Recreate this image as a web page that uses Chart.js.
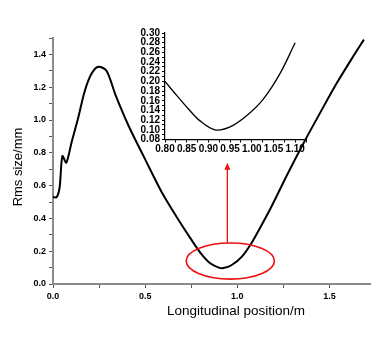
<!DOCTYPE html>
<html>
<head>
<meta charset="utf-8">
<script src="https://cdn.jsdelivr.net/npm/chart.js@4"></script>
<style>
  html, body { margin: 0; padding: 0; background: #ffffff; }
  #wrap { position: relative; width: 382px; height: 343px; }
  #main { position: absolute; left: 0; top: 0; }
  #inset { position: absolute; left: 100px; top: 15px; }
</style>
</head>
<body>
<div id="wrap">
  <canvas id="main" width="382" height="343"></canvas>
  <canvas id="inset" width="220" height="150"></canvas>
</div>
<script>
// ---- Main curve data ----
const mainX = [0, 0.02, 0.036, 0.051, 0.072, 0.10, 0.136, 0.172, 0.208, 0.245, 0.29, 0.34, 0.41, 0.50, 0.59, 0.69, 0.745, 0.80, 0.853, 0.90, 0.925, 0.97, 1.025, 1.08, 1.125, 1.18, 1.27, 1.36, 1.45, 1.54, 1.63, 1.687];
const mainY = [0.53, 0.53, 0.59, 0.78, 0.74, 0.86, 1.01, 1.175, 1.28, 1.325, 1.30, 1.15, 0.965, 0.76, 0.56, 0.375, 0.28, 0.19, 0.126, 0.10, 0.097, 0.116, 0.167, 0.255, 0.345, 0.46, 0.665, 0.86, 1.045, 1.225, 1.39, 1.49];

// ---- Inset curve data ----
const insetX = [0.80, 0.827, 0.854, 0.88, 0.915, 0.95, 0.988, 1.027, 1.065, 1.10];
const insetY = [0.20, 0.171, 0.143, 0.119, 0.100, 0.106, 0.129, 0.164, 0.216, 0.28];

// ---- Tick values ----
const mainXTicks = [0, 0.25, 0.5, 0.75, 1.0, 1.25, 1.5];
const mainXLabels = ['0.0', '', '0.5', '', '1.0', '', '1.5'];
const mainYTicks = [0, 0.1, 0.2, 0.3, 0.4, 0.5, 0.6, 0.7, 0.8, 0.9, 1.0, 1.1, 1.2, 1.3, 1.4, 1.5];
const mainYLabels = ['0.0', '', '0.2', '', '0.4', '', '0.6', '', '0.8', '', '1.0', '', '1.2', '', '1.4', ''];
const insetXTicks = [0.80, 0.825, 0.85, 0.875, 0.90, 0.925, 0.95, 0.975, 1.00, 1.025, 1.05, 1.075, 1.10, 1.125];
const insetXLabels = ['0.80', '', '0.85', '', '0.90', '', '0.95', '', '1.00', '', '1.05', '', '1.10', ''];
const insetYTicks = [0.08, 0.09, 0.10, 0.11, 0.12, 0.13, 0.14, 0.15, 0.16, 0.17, 0.18, 0.19, 0.20, 0.21, 0.22, 0.23, 0.24, 0.25, 0.26, 0.27, 0.28, 0.29, 0.30];
const insetYLabels = ['0.08', '', '0.10', '', '0.12', '', '0.14', '', '0.16', '', '0.18', '', '0.20', '', '0.22', '', '0.24', '', '0.26', '', '0.28', '', '0.30'];

// ---- Axis titles ----
const xTitle = 'Longitudinal position/m';
const yTitle = 'Rms size/mm';

// ---- Annotation (red ellipse + arrow), in data units ----
const ellipseCenter = [0.962, 0.14];
const ellipseRadius = [0.239, 0.11];
const arrowX = 0.946;
const arrowFromY = 0.25;
const arrowToY = 0.74;

const FONT = "'Liberation Sans', Arial, sans-serif";

function fixedTicks(values, labels) {
  return {
    afterBuildTicks(scale) { scale.ticks = values.map(v => ({ value: v })); },
    labelFor(v) {
      let best = 0;
      for (let i = 0; i < values.length; i++) if (Math.abs(values[i] - v) < Math.abs(values[best] - v)) best = i;
      return labels[best];
    }
  };
}

const mxT = fixedTicks(mainXTicks, mainXLabels);
const myT = fixedTicks(mainYTicks, mainYLabels);
const ixT = fixedTicks(insetXTicks, insetXLabels);
const iyT = fixedTicks(insetYTicks, insetYLabels);

const annotPlugin = {
  id: 'annot',
  afterDatasetsDraw(chart) {
    const { ctx, scales: { x, y } } = chart;
    ctx.save();
    ctx.strokeStyle = '#ee1111';
    ctx.fillStyle = '#ee1111';
    ctx.lineWidth = 1.6;
    const cx = x.getPixelForValue(ellipseCenter[0]);
    const cy = y.getPixelForValue(ellipseCenter[1]);
    const rx = Math.abs(x.getPixelForValue(ellipseCenter[0] + ellipseRadius[0]) - cx);
    const ry = Math.abs(y.getPixelForValue(ellipseCenter[1] + ellipseRadius[1]) - cy);
    ctx.beginPath();
    ctx.ellipse(cx, cy, rx, ry, 0, 0, Math.PI * 2);
    ctx.stroke();
    const ax = x.getPixelForValue(arrowX);
    const ay0 = y.getPixelForValue(arrowFromY);
    const ay1 = y.getPixelForValue(arrowToY);
    ctx.lineWidth = 1.3;
    ctx.beginPath();
    ctx.moveTo(ax, ay0);
    ctx.lineTo(ax, ay1 + 5);
    ctx.stroke();
    ctx.beginPath();
    ctx.moveTo(ax, ay1);
    ctx.lineTo(ax - 3, ay1 + 7);
    ctx.lineTo(ax + 3, ay1 + 7);
    ctx.closePath();
    ctx.fill();

    // axis titles
    ctx.fillStyle = '#000';
    ctx.font = "13.5px " + FONT;
    ctx.textAlign = 'center';
    ctx.textBaseline = 'middle';
    ctx.fillText(xTitle, 236, 311);
    ctx.font = "13px " + FONT;
    ctx.translate(18, 167);
    ctx.rotate(-Math.PI / 2);
    ctx.fillText(yTitle, 0, 0);
    ctx.restore();
  }
};

new Chart(document.getElementById('main'), {
  type: 'line',
  data: {
    datasets: [{
      data: mainX.map((v, i) => ({ x: v, y: mainY[i] })),
      borderColor: '#000000',
      borderWidth: 2,
      pointRadius: 0,
      tension: 0.3,
      fill: false
    }]
  },
  options: {
    responsive: false,
    animation: false,
    devicePixelRatio: 1,
    layout: { padding: { top: 38, right: 12, left: 0, bottom: 0 } },
    plugins: { legend: { display: false }, tooltip: { enabled: false } },
    scales: {
      x: {
        type: 'linear', min: 0, max: 1.72,
        afterBuildTicks: mxT.afterBuildTicks,
        afterFit(s) { s.height = 59; },
        grid: { display: true, drawOnChartArea: false, drawTicks: true, tickLength: 4, tickColor: '#555', tickWidth: 1 },
        border: { display: true, color: '#8a8a8a', width: 2 },
        ticks: { autoSkip: false, maxRotation: 0, padding: 3, color: '#000', font: { family: FONT, size: 9, weight: 'bold' }, callback: v => mxT.labelFor(v) }
      },
      y: {
        type: 'linear', min: 0, max: 1.5,
        afterBuildTicks: myT.afterBuildTicks,
        afterFit(s) { s.width = 53; },
        grid: { display: true, drawOnChartArea: false, drawTicks: true, tickLength: 4, tickColor: '#555', tickWidth: 1 },
        border: { display: true, color: '#8a8a8a', width: 2 },
        ticks: { autoSkip: false, padding: 3, color: '#000', font: { family: FONT, size: 9, weight: 'bold' }, callback: v => myT.labelFor(v) }
      }
    }
  },
  plugins: [annotPlugin]
});

new Chart(document.getElementById('inset'), {
  type: 'line',
  data: {
    datasets: [{
      data: insetX.map((v, i) => ({ x: v, y: insetY[i] })),
      borderColor: '#000000',
      borderWidth: 1.3,
      pointRadius: 0,
      tension: 0.35,
      fill: false
    }]
  },
  options: {
    responsive: false,
    animation: false,
    devicePixelRatio: 1,
    layout: { padding: { top: 18, right: 14, left: 0, bottom: 0 } },
    plugins: { legend: { display: false }, tooltip: { enabled: false } },
    scales: {
      x: {
        type: 'linear', min: 0.80, max: 1.125,
        afterBuildTicks: ixT.afterBuildTicks,
        afterFit(s) { s.height = 25.5; },
        grid: { display: true, drawOnChartArea: false, drawTicks: true, tickLength: 3, tickColor: '#000', tickWidth: 1 },
        border: { display: true, color: '#000', width: 1.2 },
        ticks: { autoSkip: false, maxRotation: 0, padding: 1, color: '#000', font: { family: FONT, size: 10, weight: 'bold' }, callback: v => ixT.labelFor(v) }
      },
      y: {
        type: 'linear', min: 0.08, max: 0.30,
        afterBuildTicks: iyT.afterBuildTicks,
        afterFit(s) { s.width = 65; },
        grid: { display: true, drawOnChartArea: false, drawTicks: true, tickLength: 3, tickColor: '#000', tickWidth: 1 },
        border: { display: true, color: '#000', width: 1.2 },
        ticks: { autoSkip: false, padding: 2, color: '#000', font: { family: FONT, size: 10, weight: 'bold' }, callback: v => iyT.labelFor(v) }
      }
    }
  }
});
</script>
</body>
</html>
